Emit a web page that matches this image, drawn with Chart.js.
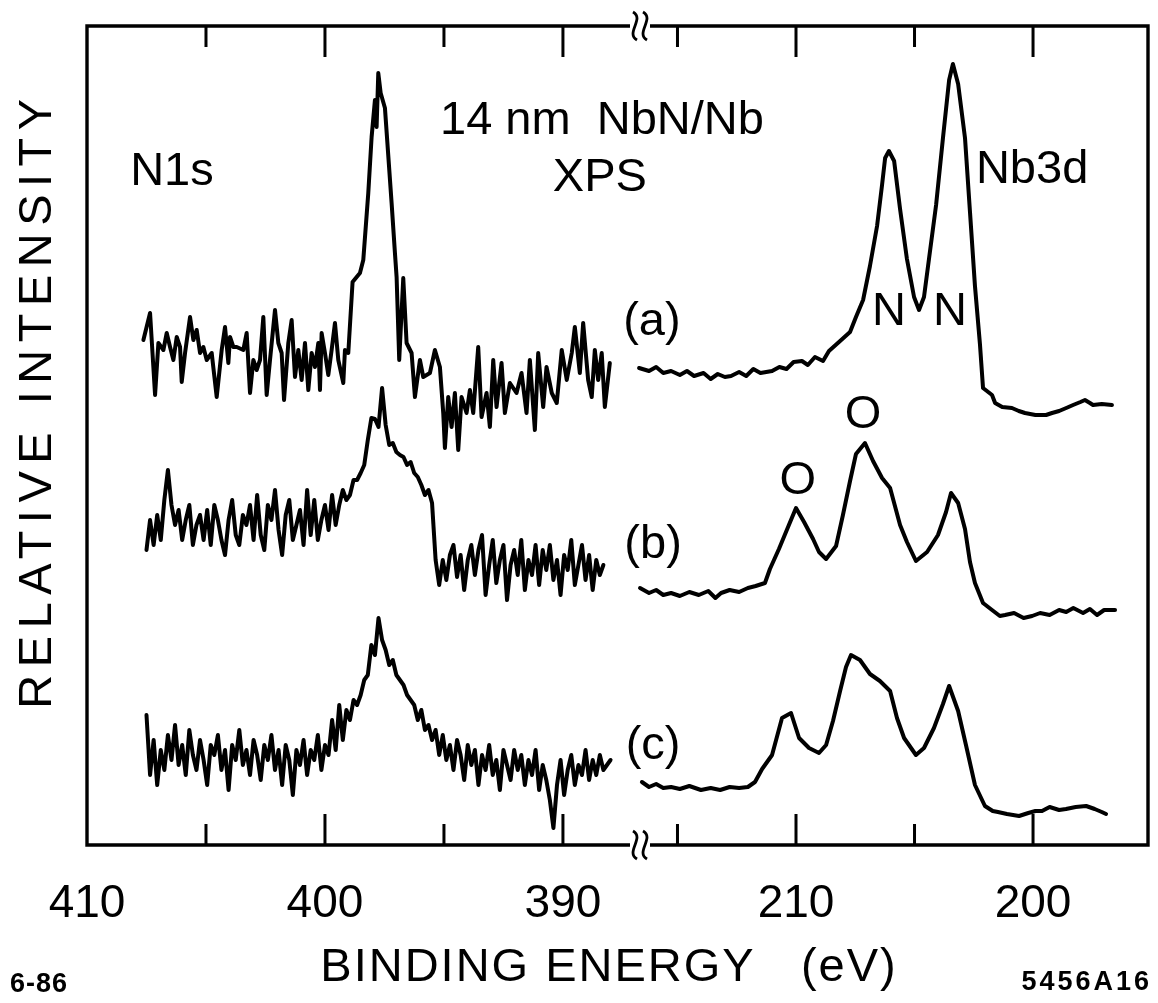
<!DOCTYPE html>
<html><head><meta charset="utf-8">
<script src="https://cdn.jsdelivr.net/npm/chart.js@4.4.1/dist/chart.umd.min.js"></script>
<style>html,body{margin:0;padding:0;background:#fff;} #wrap{width:1158px;height:1003px;position:relative;}</style>
</head><body><div id="wrap"><canvas id="c" width="1158" height="1003"></canvas></div>
<script>
// ---------- tick values / labels ----------
const n1sTickValues = [410, 405, 400, 395, 390];
const nb3dTickValues = [215, 210, 205, 200];

// ---------- N1s (a) ----------
const n1sA_eV = [407.63,407.35,407.14,407.00,406.79,406.65,406.51,406.37,406.23,406.09,
 406.02,405.88,405.67,405.53,405.39,405.25,405.11,404.97,404.76,404.55,
 404.34,404.20,404.06,403.99,403.85,403.71,403.43,403.29,403.15,403.01,
 402.87,402.73,402.59,402.45,402.31,402.10,401.96,401.82,401.72,401.54,
 401.40,401.26,401.12,400.98,400.84,400.70,400.56,400.42,400.28,400.21,
 400.14,400.00,399.86,399.72,399.58,399.44,399.23,399.16,399.02,
 398.84,398.53,398.39,398.18,398.04,397.90,397.83,397.76,397.66,397.48,
 397.20,397.06,396.99,396.88,396.71,396.57,396.36,396.22,396.01,395.87,
 395.59,395.38,395.17,395.03,394.96,394.82,394.68,394.54,394.40,394.26,
 394.05,393.91,393.77,393.56,393.42,393.21,393.07,392.93,392.79,392.58,
 392.44,392.23,391.95,391.74,391.53,391.39,391.18,391.04,390.83,390.69,
 390.47,390.26,390.05,389.84,389.63,389.50,389.29,389.15,388.94,388.79,
 388.66,388.52,388.37,388.24,388.03];
const n1sA_int = [505,532,450,502,495,512,498,485,508,498,
 463,492,528,505,515,492,498,485,492,448,
 495,518,482,508,498,498,495,512,452,485,
 475,485,528,450,485,535,502,492,445,502,
 525,468,495,465,502,455,492,478,502,455,
 512,492,470,495,522,485,462,495,492,
 563,572,585,652,708,745,718,772,752,737,
 642,592,568,485,567,502,492,448,485,468,
 472,495,478,432,397,448,418,452,395,448,
 432,455,432,498,428,452,418,485,438,482,
 432,462,452,472,432,485,415,492,438,478,
 452,442,495,465,492,518,472,522,465,448,
 495,465,492,438,482];

// ---------- N1s (b), (c) sampled on the same energy grid ----------
const n1sGrid_eV = [407.5,407.35,407.2,407.05,406.9,406.75,406.6,406.45,406.3,406.15,
 406.0,405.85,405.7,405.55,405.4,405.25,405.1,404.95,404.8,404.65,
 404.5,404.35,404.2,404.05,403.9,403.75,403.6,403.45,403.3,403.15,
 403.0,402.85,402.7,402.55,402.4,402.25,402.1,401.95,401.8,401.65,
 401.5,401.35,401.2,401.05,400.9,400.75,400.6,400.45,400.3,400.15,
 400.0,399.85,399.7,399.55,399.4,399.25,399.1,398.95,398.8,398.65,
 398.5,398.35,398.2,398.05,397.9,397.75,397.6,397.45,397.3,397.15,
 397.0,396.85,396.7,396.55,396.4,396.25,396.1,395.95,395.8,395.65,
 395.5,395.35,395.2,395.05,394.9,394.75,394.6,394.45,394.3,394.15,
 394.0,393.85,393.7,393.55,393.4,393.25,393.1,392.95,392.8,392.65,
 392.5,392.35,392.2,392.05,391.9,391.75,391.6,391.45,391.3,391.15,
 391.0,390.85,390.7,390.55,390.4,390.25,390.1,389.95,389.8,389.65,
 389.5,389.35,389.2,389.05,388.9,388.75,388.6,388.45,388.3,388.15,
 388.0];
const n1sB_int = [295,325,300,330,305,345,375,340,320,335,
 305,325,340,300,320,330,305,335,300,340,
 325,305,290,325,345,310,300,330,320,340,
 305,350,310,295,340,325,355,315,290,330,
 345,305,320,335,300,355,310,345,305,325,
 340,315,350,320,340,355,345,350,365,365,
 372,380,405,427,426,418,457,420,400,402,
 393,390,388,380,383,372,368,360,350,355,
 342,285,260,285,265,290,300,268,290,255,
 285,300,270,295,310,250,280,305,262,285,
 300,245,280,295,270,305,255,285,270,300,
 260,295,275,300,265,285,250,290,275,305,
 260,280,300,265,290,255,285,270,280];
const n1sC_int = [130,70,105,60,95,75,110,85,120,80,
 100,70,115,90,75,105,85,60,100,90,
 110,75,95,55,100,85,115,80,95,70,
 105,90,65,100,85,110,75,95,60,100,
 85,50,95,80,105,70,95,85,110,75,
 100,90,125,95,140,105,135,125,145,140,
 150,165,170,200,190,227,205,195,180,185,
 170,165,160,150,145,140,125,135,115,120,
 105,115,90,110,85,100,75,105,90,65,
 100,80,95,60,90,75,100,70,85,55,
 95,80,65,95,75,90,60,85,70,95,
 55,80,65,45,17,60,85,50,75,90,
 60,80,70,95,65,85,70,90,75,80,
 85];

// ---------- Nb3d ----------
const nbA_eV = [216.62,216.2,215.9,215.6,215.27,214.9,214.6,214.3,213.9,213.6,
 213.3,213.0,212.74,212.4,212.1,211.8,211.5,211.01,210.7,210.4,
 210.1,209.75,209.5,209.2,208.86,208.61,208.14,207.72,207.47,207.17,
 206.88,206.58,206.37,206.24,206.08,205.86,205.61,205.32,205.02,204.81,
 204.60,204.39,204.09,203.80,203.54,203.38,203.16,202.87,202.66,202.45,
 202.24,202.11,201.73,201.60,201.3,200.89,200.6,200.34,199.9,199.45,
 199.2,198.90,198.6,198.31,198.0,197.81,197.6,197.47,197.1,196.67];
const nbA_int = [477,474,478,472,474,470,474,469,472,466,
 471,468,469,473,469,476,472,474,478,476,
 483,484,480,488,484,494,504,513,528,545,
 579,619,660,687,694,684,636,586,548,535,
 548,586,640,707,765,781,761,707,633,559,
 501,457,450,442,438,437,434,432,430,430,
 432,434,437,440,443,445,442,440,441,440];
const nbB_eV = [216.58,216.2,215.9,215.6,215.27,214.9,214.5,214.1,213.7,213.4,
 213.16,212.8,212.4,212.03,211.7,211.31,211.10,210.72,210.30,210.00,
 209.66,209.28,209.03,208.73,208.31,208.02,207.72,207.47,207.09,206.75,
 206.37,206.03,205.61,205.32,204.94,204.47,204.01,203.67,203.46,203.16,
 202.87,202.66,202.45,202.11,201.73,201.4,201.18,200.8,200.4,200.04,
 199.7,199.3,198.90,198.6,198.3,197.89,197.6,197.3,197.0,196.54];
const nbB_int = [257,252,255,250,252,249,253,250,254,247,
 252,255,253,257,259,262,276,296,320,337,
 323,306,293,286,299,330,364,391,402,384,
 367,357,320,303,284,293,310,333,352,342,
 316,283,262,242,235,229,230,232,227,229,
 232,230,235,233,237,232,236,230,235,235];
const nbC_eV = [216.50,216.2,215.9,215.6,215.27,214.9,214.5,214.01,213.6,213.2,
 212.8,212.4,212.03,211.73,211.43,211.01,210.59,210.21,209.87,209.45,
 209.03,208.73,208.44,208.14,207.89,207.68,207.30,206.88,206.46,206.03,
 205.74,205.44,204.94,204.60,204.18,203.80,203.54,203.16,202.83,202.45,
 202.03,201.7,201.48,201.1,200.59,200.2,199.9,199.62,199.3,198.9,
 198.61,198.2,197.76,197.4,197.1,196.92];
const nbC_int = [63,58,61,57,58,56,59,55,57,55,
 58,57,58,63,76,90,127,132,107,97,
 92,100,124,154,178,190,185,171,164,154,
 127,107,90,97,117,141,159,134,100,60,
 39,34,33,31,29,32,34,34,38,35,
 36,38,39,36,33,31];

// ---------- annotations (anchored in data space) ----------
const annotations = [
  {text: 'N1s', axis: 'xL', x: 406.43, y: 673},
  {text: '14 nm  NbN/Nb', axis: 'xL', x: 388.36, y: 724},
  {text: 'XPS', axis: 'xL', x: 388.45, y: 667},
  {text: 'Nb3d', axis: 'xR', x: 200.04, y: 675},
  {text: '(a)', axis: 'xR', x: 216.08, y: 523},
  {text: 'N', axis: 'xR', x: 206.08, y: 533},
  {text: 'N', axis: 'xR', x: 203.50, y: 533},
  {text: 'O', axis: 'xR', x: 207.17, y: 430},
  {text: 'O', axis: 'xR', x: 209.92, y: 364},
  {text: '(b)', axis: 'xR', x: 216.03, y: 300},
  {text: '(c)', axis: 'xR', x: 216.03, y: 99}
];
const xTitle = 'BINDING ENERGY   (eV)';
const yTitle = 'RELATIVE INTENSITY';
const leftNote = '6-86';
const rightNote = '5456A16';

const FONT = "'Liberation Sans', Arial, sans-serif";
const zip = (xs, ys) => ys.map((v, i) => ({x: xs[i], y: v}));

function line(data, axis) {
  return {data, xAxisID: axis, yAxisID: 'y', borderColor: '#000', borderWidth: 4,
    pointRadius: 0, tension: 0, fill: false, borderJoinStyle: 'round', borderCapStyle: 'round'};
}

const framePlugin = {
  id: 'frame',
  afterDraw(chart) {
    const ctx = chart.ctx, a = chart.chartArea;
    const xL = chart.scales.xL, xR = chart.scales.xR, y = chart.scales.y;
    ctx.save();
    ctx.strokeStyle = '#000';
    ctx.lineWidth = 3.4;
    ctx.beginPath();
    ctx.moveTo(a.left, a.top); ctx.lineTo(a.right, a.top);
    ctx.lineTo(a.right, a.bottom); ctx.lineTo(a.left, a.bottom); ctx.closePath();
    ctx.stroke();
    // inward ticks
    ctx.lineWidth = 3;
    ctx.beginPath();
    [[xL, n1sTickValues], [xR, nb3dTickValues]].forEach(([sc, vals]) => {
      vals.forEach(v => {
        const px = sc.getPixelForValue(v);
        if (px <= a.left + 2 || px >= a.right - 2) return;
        const len = v % 10 === 0 ? 31 : 21;
        ctx.moveTo(px, a.top); ctx.lineTo(px, a.top + len);
        ctx.moveTo(px, a.bottom); ctx.lineTo(px, a.bottom - len);
      });
    });
    ctx.stroke();
    // axis break marks
    const bx = xL.right + 4;
    ctx.lineWidth = 2.8;
    [a.top, a.bottom].forEach(by => {
      ctx.fillStyle = '#fff';
      ctx.fillRect(bx - 10, by - 3, 20, 6);
      [-5, 5].forEach(dx => {
        ctx.beginPath();
        ctx.moveTo(bx + dx - 2, by - 14);
        ctx.bezierCurveTo(bx + dx + 10, by - 7, bx + dx - 10, by + 7, bx + dx + 2, by + 14);
        ctx.stroke();
      });
    });
    // annotations
    ctx.fillStyle = '#000';
    ctx.textAlign = 'center';
    ctx.textBaseline = 'middle';
    ctx.font = '47px ' + FONT;
    annotations.forEach(t => {
      const sc = chart.scales[t.axis];
      ctx.fillText(t.text, sc.getPixelForValue(t.x), y.getPixelForValue(t.y));
    });
    // axis titles
    ctx.font = '47px ' + FONT;
    ctx.letterSpacing = '2px';
    ctx.fillText(xTitle, 609, 968);
    ctx.save();
    ctx.translate(38, 400);
    ctx.rotate(-Math.PI / 2);
    ctx.letterSpacing = '7.5px';
    ctx.fillText(yTitle, 0, 0);
    ctx.restore();
    ctx.letterSpacing = '1px';
    ctx.font = 'bold 27px ' + FONT;
    ctx.textAlign = 'left';
    ctx.fillText(leftNote, 10, 985);
    ctx.textAlign = 'right';
    ctx.letterSpacing = '3px';
    ctx.fillText(rightNote, 1152, 983);
    ctx.restore();
  }
};

function xAxis(min, max, ticks, weight) {
  return {
    type: 'linear', position: 'bottom', stack: 'xs', stackWeight: weight,
    reverse: true, min, max,
    afterBuildTicks: s => { s.ticks = ticks.map(v => ({value: v})); },
    afterFit: s => { s.height = 158; s.paddingLeft = 0; s.paddingRight = 0; },
    grid: {display: false}, border: {display: false},
    ticks: {
      autoSkip: false, maxRotation: 0, minRotation: 0, padding: 24, color: '#000',
      font: {family: FONT, size: 46},
      callback: v => (v % 10 === 0 ? String(v) : '')
    }
  };
}

new Chart(document.getElementById('c'), {
  type: 'line',
  data: {datasets: [
    line(zip(n1sA_eV, n1sA_int), 'xL'),
    line(zip(n1sGrid_eV, n1sB_int), 'xL'),
    line(zip(n1sGrid_eV, n1sC_int), 'xL'),
    line(zip(nbA_eV, nbA_int), 'xR'),
    line(zip(nbB_eV, nbB_int), 'xR'),
    line(zip(nbC_eV, nbC_int), 'xR')
  ]},
  options: {
    responsive: false, animation: false, devicePixelRatio: 1,
    layout: {padding: {left: 87, top: 26, right: 10, bottom: 0}},
    plugins: {legend: {display: false}, tooltip: {enabled: false}, title: {display: false}},
    scales: {
      xL: xAxis(386.93, 410, n1sTickValues, 549),
      xR: xAxis(195.15, 216.75, nb3dTickValues, 512),
      y: {type: 'linear', display: false, min: 0, max: 819}
    }
  },
  plugins: [framePlugin]
});
</script></body></html>
